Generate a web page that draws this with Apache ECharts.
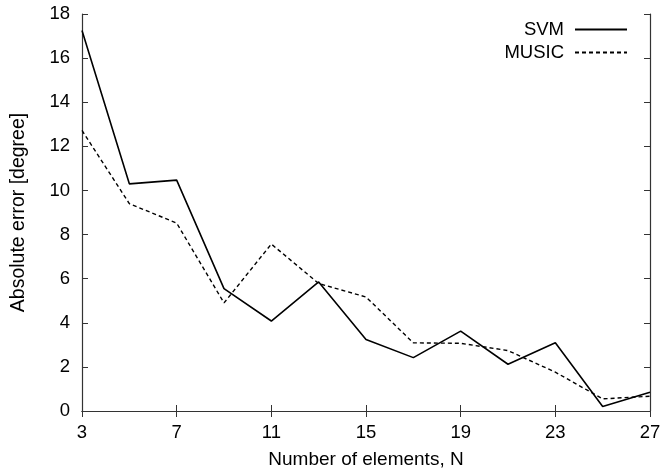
<!DOCTYPE html>
<html>
<head>
<meta charset="utf-8">
<script src="https://cdn.jsdelivr.net/npm/echarts@6/dist/echarts.min.js"></script>
<style>
  html, body { margin: 0; padding: 0; background: #fff; }
  #chart { width: 664px; height: 472px; }
</style>
</head>
<body>
<div id="chart"></div>
<script>
// number of elements (x axis)
const elements = ['3', '5', '7', '9', '11', '13', '15', '17', '19', '21', '23', '25', '27'];
// absolute error in degrees
const svmError = [17.25, 10.3, 10.47, 5.55, 4.08, 5.85, 3.24, 2.42, 3.62, 2.12, 3.09, 0.2, 0.85];
const musicError = [12.72, 9.4, 8.52, 4.9, 7.57, 5.78, 5.17, 3.09, 3.07, 2.74, 1.76, 0.55, 0.67];

const font = 'Liberation Sans, Arial, sans-serif';
const axisColor = '#333';

const chart = echarts.init(document.getElementById('chart'));

const xBase = {
  type: 'category',
  data: elements,
  boundaryGap: false,
  axisLine: { lineStyle: { color: axisColor, width: 1.2 } },
  axisTick: { inside: true, interval: 1, length: 6, lineStyle: { color: axisColor } },
  splitLine: { show: false }
};
const yBase = {
  type: 'value',
  min: 0,
  max: 18,
  interval: 2,
  axisLine: { show: true, lineStyle: { color: axisColor, width: 1.2 } },
  axisTick: { show: true, inside: true, length: 6, lineStyle: { color: axisColor } },
  splitLine: { show: false }
};

chart.setOption({
  animation: false,
  textStyle: { fontFamily: font },
  grid: { left: 82, right: 14, top: 14, bottom: 61, outerBoundsMode: 'none' },
  legend: {
    orient: 'vertical',
    right: 31,
    top: 15,
    align: 'right',
    itemWidth: 52,
    itemHeight: 12,
    itemGap: 4,
    itemStyle: { opacity: 0 },
    textStyle: { fontSize: 18.5, color: '#000', fontFamily: font, padding: [0, 6, 0, 0] },
    data: ['SVM', 'MUSIC']
  },
  xAxis: [
    Object.assign({}, xBase, {
      position: 'bottom',
      name: 'Number of elements, N',
      nameLocation: 'middle',
      nameGap: 39,
      nameTextStyle: { fontSize: 19, color: '#000' },
      axisLabel: { interval: 1, fontSize: 18.5, color: '#000', margin: 12 }
    }),
    Object.assign({}, xBase, {
      position: 'top',
      axisLabel: { show: false }
    })
  ],
  yAxis: [
    Object.assign({}, yBase, {
      position: 'left',
      name: 'Absolute error [degree]',
      nameLocation: 'middle',
      nameGap: 53,
      nameTextStyle: { fontSize: 19.5, color: '#000' },
      axisLabel: { fontSize: 18.5, color: '#000', margin: 12 }
    }),
    Object.assign({}, yBase, {
      position: 'right',
      axisLabel: { show: false }
    })
  ],
  series: [
    {
      name: 'SVM',
      type: 'line',
      data: svmError,
      symbol: 'none',
      lineStyle: { color: '#000', width: 1.6, type: 'solid' },
      itemStyle: { color: '#000' }
    },
    {
      name: 'MUSIC',
      type: 'line',
      data: musicError,
      symbol: 'none',
      lineStyle: { color: '#000', width: 1.4, type: [4, 3] },
      itemStyle: { color: '#000' }
    }
  ]
});
</script>
</body>
</html>
